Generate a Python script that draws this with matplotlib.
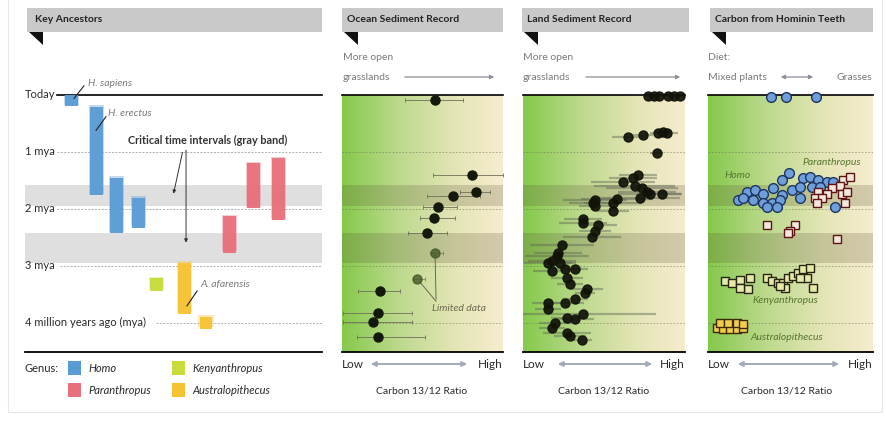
import numpy as np
import matplotlib
matplotlib.use('Agg')
import matplotlib.pyplot as plt
from matplotlib.colors import LinearSegmentedColormap
from matplotlib.patches import Rectangle, Polygon

plt.rcParams['font.family'] = ['Lato', 'DejaVu Sans']

# ---------------- donnees ----------------
# Key ancestors : intervalles de temps (millions d'annees)
anc_genus = ['Homo', 'Homo', 'Homo', 'Homo', 'Kenyanthropus', 'Australopithecus',
             'Australopithecus', 'Paranthropus', 'Paranthropus', 'Paranthropus']
anc_lane = [0, 1.09, 1.96, 2.93, 3.7, 4.9, 5.85, 6.87, 7.91, 9.0]
anc_start = [0.0, 0.21, 1.46, 1.80, 3.22, 2.94, 3.89, 2.13, 1.20, 1.11]
anc_end = [0.2, 1.76, 2.43, 2.33, 3.44, 3.84, 4.10, 2.77, 1.99, 2.20]

genus_names = ['Homo', 'Paranthropus', 'Kenyanthropus', 'Australopithecus']
genus_colors = {'Homo': '#5b9bd5', 'Paranthropus': '#e8707c',
                'Kenyanthropus': '#c8dc3c', 'Australopithecus': '#f5c232'}

# intervalles critiques (bandes grises)
band_lo = [1.58, 2.42]
band_hi = [1.95, 2.95]

time_ticks = [0, 1, 2, 3, 4]
time_labels = ['Today', '1 mya', '2 mya', '3 mya', '4 million years ago (mya)']

# Ocean sediment record (ratio 0 = low, 1 = high)
ocean_age = [0.09, 1.41, 1.70, 1.78, 1.97, 2.15, 2.43, 2.77, 3.23, 3.44, 3.82, 3.98, 4.25]
ocean_ratio = [0.578, 0.807, 0.832, 0.689, 0.596, 0.571, 0.528, 0.578, 0.466, 0.236, 0.224, 0.193, 0.224]
ocean_lo = [0.391, 0.565, 0.733, 0.528, 0.503, 0.484, 0.410, 0.547, 0.441, 0.099, 0.006, 0.006, 0.093]
ocean_hi = [0.752, 1.0, 0.919, 0.857, 0.714, 0.702, 0.652, 0.627, 0.516, 0.360, 0.435, 0.435, 0.516]
ocean_limited = [False] * 7 + [True, True] + [False] * 4

# Land sediment record
land_age = [0.02, 0.02, 0.02, 0.02, 0.02, 0.02, 0.74, 0.70, 0.67, 0.65, 0.67, 1.02,
            1.41, 1.46, 1.53, 1.59, 1.64, 1.71, 1.73, 1.74, 1.80, 1.83, 1.89, 1.85,
            1.90, 2.03, 2.17, 1.94, 2.24, 2.29, 2.38, 2.50, 2.64, 2.77, 2.82, 2.91,
            2.94, 2.94, 3.08, 3.05, 3.05, 3.22, 3.31, 3.40, 3.47, 3.58, 3.65, 3.65,
            3.75, 3.84, 3.91, 3.93, 4.00, 4.09, 4.18, 4.23, 4.30]
land_ratio = [0.772, 0.809, 0.840, 0.895, 0.932, 0.969, 0.648, 0.741, 0.833, 0.864, 0.889, 0.827,
              0.710, 0.679, 0.617, 0.691, 0.735, 0.765, 0.784, 0.858, 0.722, 0.580, 0.556, 0.444,
              0.432, 0.556, 0.370, 0.444, 0.370, 0.463, 0.444, 0.426, 0.241, 0.216, 0.210, 0.179,
              0.154, 0.228, 0.179, 0.259, 0.321, 0.272, 0.290, 0.395, 0.383, 0.321, 0.259, 0.154,
              0.154, 0.370, 0.272, 0.321, 0.198, 0.179, 0.272, 0.290, 0.364]
land_err = [0.03, 0.03, 0.03, 0.03, 0.03, 0.03, 0.10, 0.06, 0.05, 0.05, 0.07, 0.04,
            0.12, 0.15, 0.20, 0.25, 0.22, 0.18, 0.20, 0.12, 0.25, 0.22, 0.18, 0.20,
            0.15, 0.10, 0.12, 0.10, 0.15, 0.12, 0.10, 0.18, 0.20, 0.15, 0.20, 0.15,
            0.15, 0.10, 0.12, 0.10, 0.08, 0.10, 0.08, 0.10, 0.06, 0.08, 0.12, 0.10,
            0.08, 0.45, 0.10, 0.12, 0.10, 0.08, 0.15, 0.10, 0.06]

# Carbon from hominin teeth
sapiens_age = [0.03, 0.03, 0.03]
sapiens_ratio = [0.382, 0.473, 0.655]
homo_age = [1.37, 1.50, 1.46, 1.44, 1.50, 1.53, 1.53, 1.71, 1.67, 1.73, 1.64, 1.76, 1.67,
            1.62, 1.62, 1.62, 1.85, 1.81, 1.85, 1.89, 1.89, 1.85, 1.81, 1.97, 1.97, 1.97]
homo_ratio = [0.491, 0.448, 0.576, 0.618, 0.667, 0.721, 0.758, 0.236, 0.285, 0.333, 0.394, 0.448, 0.509,
              0.558, 0.630, 0.679, 0.182, 0.212, 0.273, 0.333, 0.388, 0.436, 0.558, 0.358, 0.418, 0.770]
paran_age = [1.50, 1.44, 1.59, 1.64, 1.71, 1.73, 1.80, 1.81, 1.73, 1.71, 1.90, 1.89,
             2.29, 2.29, 2.38, 2.43, 2.52]
paran_ratio = [0.818, 0.861, 0.800, 0.752, 0.667, 0.721, 0.648, 0.691, 0.812, 0.842, 0.661, 0.830,
               0.358, 0.527, 0.497, 0.485, 0.782]
keny_age = [3.26, 3.30, 3.24, 3.21, 3.40, 3.38, 3.22, 3.26, 3.30, 3.30, 3.22, 3.17, 3.12,
            3.05, 3.03, 3.21, 3.22, 3.38, 3.35, 3.38]
keny_ratio = [0.103, 0.145, 0.194, 0.255, 0.242, 0.194, 0.358, 0.388, 0.424, 0.455, 0.485, 0.515, 0.545,
              0.576, 0.618, 0.600, 0.558, 0.467, 0.436, 0.636]
austr_age = [4.09, 4.11, 4.11, 4.11, 4.09, 4.00, 4.00, 4.00, 4.02]
austr_ratio = [0.055, 0.091, 0.133, 0.176, 0.212, 0.073, 0.121, 0.176, 0.212]

# ---------------- mise en page ----------------
W, H = 886, 424
AGE_MAX = 4.51
fig = plt.figure(figsize=(W / 100, H / 100), dpi=100)


def px_axes(x0, y0, x1, y1):
    return fig.add_axes([x0 / W, 1 - y1 / H, (x1 - x0) / W, (y1 - y0) / H])


ov = fig.add_axes([0, 0, 1, 1])
ov.set_xlim(0, W)
ov.set_ylim(H, 0)
ov.axis('off')
ov.add_patch(Rectangle((8, -2), 874, 414, fill=False, ec='#e8e8e8', lw=0.8))

txt_dark = '#2a2a2a'
txt_gray = '#7a7a7a'


def header(x0, x1, title, off=5):
    ov.add_patch(Rectangle((x0, 8), x1 - x0, 24, color='#c9c9c9', lw=0))
    ov.add_patch(Polygon([(x0 + 2, 32), (x0 + 16, 32), (x0 + 16, 45)], closed=True, color='#111111', lw=0))
    ov.text(x0 + off, 20, title, fontsize=7.5, fontweight='bold', color='#222222', va='center')


header(27, 322, 'Key Ancestors', off=8)
header(342, 503, 'Ocean Sediment Record')
header(522, 689, 'Land Sediment Record')
header(710, 873, 'Carbon from Hominin Teeth')


def clean(ax):
    for s in ['top', 'left', 'right']:
        ax.spines[s].set_visible(False)
    ax.spines['bottom'].set_color('black')
    ax.spines['bottom'].set_linewidth(1.3)
    ax.set_xticks([])
    ax.set_yticks([])


# ---- Key ancestors ----
axL = px_axes(25, 95, 322, 352)
axL.set_xlim(-2.02, 10.89)
axL.set_ylim(AGE_MAX, 0)
clean(axL)
axL.patch.set_alpha(0)
for lo, hi in zip(band_lo, band_hi):
    axL.axhspan(lo, hi, color='#dfdfdf', lw=0, zorder=0)
ytr = axL.get_yaxis_transform()
line_start = [0.108, 0.108, 0.108, 0.118, 0.44]
for t, lab, xs in zip(time_ticks, time_labels, line_start):
    if t == 0:
        axL.plot([xs, 1], [t, t], transform=ytr, color='black', lw=1.2, clip_on=False, zorder=1)
    else:
        axL.plot([xs, 1], [t, t], transform=ytr, color='#a8b0b8', lw=0.7, ls=(0, (2, 1.5)),
                 clip_on=False, zorder=1)
    axL.text(0, t, lab, transform=ytr, ha='left', va='center', fontsize=8, color=txt_dark)

for lane, s, e, g in zip(anc_lane, anc_start, anc_end, anc_genus):
    c = genus_colors[g]
    axL.bar(lane, e - s, bottom=s - 0.03, width=0.66, color=c, alpha=0.35, lw=0, zorder=2)
    axL.bar(lane, e - s, bottom=s, width=0.56, color=c, alpha=0.95, lw=0, zorder=3)

lab_kw = dict(fontsize=7.5, color=txt_gray, style='italic', va='center')
axL.text(0.72, -0.21, 'H. sapiens', **lab_kw)
axL.plot([0.54, 0.11], [-0.16, 0.06], color='#222222', lw=0.8, clip_on=False, zorder=4)
axL.text(1.59, 0.33, 'H. erectus', **lab_kw)
axL.plot([1.5, 1.07], [0.38, 0.62], color='#222222', lw=0.8, zorder=4)
axL.text(2.46, 0.79, 'Critical time intervals (gray band)', fontsize=7.8, color='#333333',
         fontweight='bold', va='center')
axL.annotate('', xy=(4.41, 1.78), xytext=(4.85, 0.96),
             arrowprops=dict(arrowstyle='-|>', color='#333333', lw=0.7, mutation_scale=5))
axL.annotate('', xy=(4.98, 2.64), xytext=(4.98, 0.92),
             arrowprops=dict(arrowstyle='-|>', color='#333333', lw=0.7, mutation_scale=5))
axL.text(5.59, 3.33, 'A. afarensis', **lab_kw)
axL.plot([5.46, 5.02], [3.44, 3.70], color='#222222', lw=0.8, zorder=4)

# legende
ov.text(25, 369, 'Genus:', fontsize=8, color=txt_dark, va='center')
leg_pos = [(68, 361), (68, 383), (172, 361), (172, 383)]
for g, (lx, ly) in zip(genus_names, leg_pos):
    ov.add_patch(Rectangle((lx, ly), 13, 14, color=genus_colors[g], lw=0))
    ov.text(lx + 20, ly + 7.5, g, fontsize=8, style='italic', color=txt_dark, va='center')

# ---- panneaux de donnees ----
cmap = LinearSegmentedColormap.from_list('veg', [(0, '#84c94b'), (0.35, '#bcd98c'),
                                                  (0.7, '#e4e5b6'), (1, '#f6ecce')])
grad = np.linspace(0, 1, 256).reshape(1, -1)


def data_panel(x0, x1):
    ax = px_axes(x0, 95, x1, 352)
    ax.imshow(grad, extent=(0, 1, AGE_MAX, 0), aspect='auto', cmap=cmap, zorder=0)
    ax.set_xlim(0, 1)
    ax.set_ylim(AGE_MAX, 0)
    for lo, hi in zip(band_lo, band_hi):
        ax.axhspan(lo, hi, color='#5c5236', alpha=0.22, lw=0, zorder=1)
    for t in time_ticks[1:]:
        ax.axhline(t, color='#6b6b55', lw=0.6, ls=(0, (2, 2)), alpha=0.6, zorder=1)
    ax.axhline(0, color='black', lw=1.2, clip_on=False, zorder=2)
    clean(ax)
    return ax


def bottom_labels(x0, x1, a0, a1, cx):
    ov.text(x0, 364, 'Low', ha='left', va='center', fontsize=8.5, color=txt_dark)
    ov.text(x1, 364, 'High', ha='right', va='center', fontsize=8.5, color=txt_dark)
    ov.annotate('', xy=(a1, 364), xytext=(a0, 364),
                arrowprops=dict(arrowstyle='<|-|>', color='#a3a9b6', lw=1.4, mutation_scale=7))
    ov.text(cx, 391, 'Carbon 13/12 Ratio', ha='center', va='center', fontsize=7.5, color=txt_dark)


def top_labels(x, l1, l2, a0, a1, style='-|>'):
    ov.text(x, 58, l1, fontsize=7.5, color=txt_gray, va='center')
    ov.text(x, 77, l2, fontsize=7.5, color=txt_gray, va='center')
    ov.annotate('', xy=(a1, 77), xytext=(a0, 77),
                arrowprops=dict(arrowstyle=style, color='#8a8f9a', lw=0.9, mutation_scale=6))


# Ocean
axO = data_panel(342, 503)
top_labels(343, 'More open', 'grasslands', 402, 497)
bottom_labels(342, 503, 368, 470, 422)
for a, r, lo, hi, lim in zip(ocean_age, ocean_ratio, ocean_lo, ocean_hi, ocean_limited):
    col = '#3f5222' if lim else '#15180c'
    axO.errorbar(r, a, xerr=[[r - lo], [hi - r]], fmt='o', ms=6.5, color=col, mec=col,
                 ecolor='#6f6f5c', elinewidth=0.6, capsize=1.5, capthick=0.6,
                 alpha=0.75 if lim else 1, zorder=3, clip_on=False)
axO.text(0.56, 3.74, 'Limited data', fontsize=7.5, style='italic', color='#6a6a50', va='center')
axO.plot([0.578, 0.584], [2.80, 3.58], color='#6a6a50', lw=0.7, zorder=2)
axO.plot([0.48, 0.584], [3.27, 3.62], color='#6a6a50', lw=0.7, zorder=2)

# Land
axD = data_panel(523, 685)
top_labels(523, 'More open', 'grasslands', 583, 683)
bottom_labels(523, 685, 555, 655, 604)
axD.hlines(land_age, np.array(land_ratio) - np.array(land_err), np.array(land_ratio) + np.array(land_err),
           color='#5e6654', lw=1.6, alpha=0.45, zorder=2)
axD.plot(land_ratio, land_age, 'o', ms=6.5, color='#111309', alpha=0.92, zorder=3, clip_on=False)

# Teeth
axT = data_panel(708, 873)
ov.text(708, 58, 'Diet:', fontsize=7.5, color=txt_gray, va='center')
ov.text(708, 77, 'Mixed plants', fontsize=7.5, color=txt_gray, va='center')
ov.text(872, 77, 'Grasses', fontsize=7.5, color=txt_gray, va='center', ha='right')
ov.annotate('', xy=(816, 77), xytext=(778, 77),
            arrowprops=dict(arrowstyle='<|-|>', color='#8a8f9a', lw=0.9, mutation_scale=6))
bottom_labels(708, 873, 735, 842, 787)
circ_kw = dict(marker='o', ls='none', ms=7, mfc='#6e9fd8', mec='#1d3563', mew=1.0, zorder=4, clip_on=False)
axT.plot(sapiens_ratio, sapiens_age, **circ_kw)
axT.plot(homo_ratio, homo_age, **circ_kw)
axT.plot(paran_ratio, paran_age, marker='s', ls='none', ms=5.2, mfc='#f3e6dc', mec='#5e1414',
         mew=1.0, zorder=5)
axT.plot(keny_ratio, keny_age, marker='s', ls='none', ms=5.2, mfc='#e6e9a8', mec='#262612',
         mew=1.0, zorder=4)
axT.plot(austr_ratio, austr_age, marker='s', ls='none', ms=5.2, mfc='#f2cd48', mec='#3a2a05',
         mew=1.0, zorder=4)
grp_kw = dict(fontsize=7.5, style='italic', color='#56752e', va='center')
axT.text(0.10, 1.42, 'Homo', **grp_kw)
axT.text(0.57, 1.19, 'Paranthropus', **grp_kw)
axT.text(0.27, 3.6, 'Kenyanthropus', **grp_kw)
axT.text(0.255, 4.25, 'Australopithecus', **grp_kw)

fig.savefig('out.png', dpi=100, facecolor='white')
